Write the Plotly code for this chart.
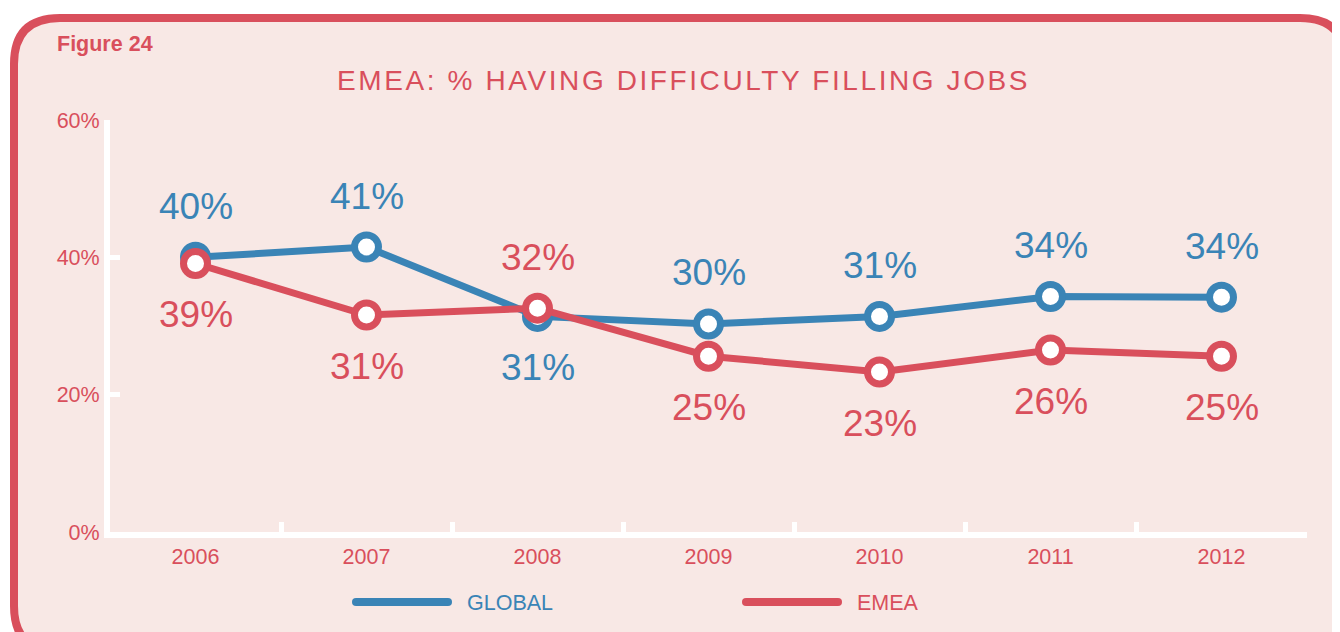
import plotly.graph_objects as go

years = ["2006", "2007", "2008", "2009", "2010", "2011", "2012"]
global_vals = [40.0, 41.5, 31.4, 30.3, 31.4, 34.3, 34.2]
emea_vals = [39.1, 31.6, 32.6, 25.6, 23.3, 26.5, 25.6]
global_labels = ["40%", "41%", "31%", "30%", "31%", "34%", "34%"]
emea_labels = ["39%", "31%", "32%", "25%", "23%", "26%", "25%"]
global_pos = ["above", "above", "below", "above", "above", "above", "above"]
emea_pos = ["below", "below", "above", "below", "below", "below", "below"]
y_ticks = [0, 20, 40, 60]
y_ticklabels = ["0%", "20%", "40%", "60%"]

BLUE = "#3A84B6"
RED = "#D94F5C"
BG = "#F8E8E5"
FONT = "Liberation Sans, Arial, Helvetica, sans-serif"

OFF = 8  # page body margin
W, H = 1340 - OFF, 632 - OFF
ML, MT = 110 - OFF, 120 - OFF
MR = W - (1307 - OFF)
MB = H - (532 - OFF)
PW, PH = W - ML - MR, H - MT - MB


def px(x):
    """reference screen pixel x -> paper coordinate"""
    return (x - OFF - ML) / PW


def py(y):
    """reference screen pixel y -> paper coordinate"""
    return (H - MB - (y - OFF)) / PH


fig = go.Figure()
for vals, name, color in [(global_vals, "GLOBAL", BLUE), (emea_vals, "EMEA", RED)]:
    fig.add_trace(go.Scatter(
        x=years, y=vals, name=name, mode="lines+markers",
        line=dict(color=color, width=7),
        marker=dict(size=24, color="white", line=dict(color=color, width=7)),
        showlegend=False, hoverinfo="skip",
    ))

annotations = []
for vals, labels, pos, color in [(global_vals, global_labels, global_pos, BLUE),
                                 (emea_vals, emea_labels, emea_pos, RED)]:
    for i, (v, lab, p) in enumerate(zip(vals, labels, pos)):
        annotations.append(dict(
            x=i, y=v, xref="x", yref="y", text=lab, showarrow=False,
            yshift=51 if p == "above" else -51,
            font=dict(family=FONT, size=37, color=color),
        ))

# Figure label and title
annotations.append(dict(x=px(55), y=py(44), xref="paper", yref="paper", text="<b>Figure 24</b>",
                        showarrow=False, xanchor="left", yanchor="middle",
                        font=dict(family=FONT, size=21.5, color=RED)))
annotations.append(dict(x=px(683), y=py(80), xref="paper", yref="paper",
                        text='<span style="letter-spacing:2.6px">EMEA: % HAVING DIFFICULTY FILLING JOBS</span>',
                        showarrow=False, xanchor="center", yanchor="middle",
                        font=dict(family=FONT, size=28, color=RED)))

# Custom legend (lines with rounded caps)
shapes = []
for x0, x1, tx, name, color in [(356, 448, 465, "GLOBAL", BLUE), (746, 838, 855, "EMEA", RED)]:
    shapes.append(dict(type="line", xref="paper", yref="paper", x0=px(x0), x1=px(x1),
                       y0=py(602), y1=py(602), line=dict(color=color, width=8)))
    for cx in (x0, x1):
        shapes.append(dict(type="circle", xref="paper", yref="paper",
                           x0=px(cx - 4), x1=px(cx + 4), y0=py(606), y1=py(598),
                           fillcolor=color, line=dict(width=0)))
    annotations.append(dict(x=px(tx), y=py(603), xref="paper", yref="paper", text=name,
                            showarrow=False, xanchor="left", yanchor="middle",
                            font=dict(family=FONT, size=21.5, color=color)))

# Rounded background panel
L, T, R, B, r = 14, 18, 1346, 652, 46
path = (f"M {px(L+r)},{py(T)} L {px(R-r)},{py(T)} Q {px(R)},{py(T)} {px(R)},{py(T+r)} "
        f"L {px(R)},{py(B-r)} Q {px(R)},{py(B)} {px(R-r)},{py(B)} "
        f"L {px(L+r)},{py(B)} Q {px(L)},{py(B)} {px(L)},{py(B-r)} "
        f"L {px(L)},{py(T+r)} Q {px(L)},{py(T)} {px(L+r)},{py(T)} Z")
shapes.insert(0, dict(type="path", xref="paper", yref="paper", path=path, layer="below",
                      fillcolor=BG, line=dict(color=RED, width=8)))

fig.update_layout(
    width=W, height=H,
    margin=dict(l=ML, r=MR, t=MT, b=MB),
    paper_bgcolor="white", plot_bgcolor="rgba(0,0,0,0)",
    annotations=annotations, shapes=shapes,
    xaxis=dict(type="category", range=[-0.5, 6.5], showgrid=False, zeroline=False,
               showline=True, linecolor="white", linewidth=6,
               ticks="inside", tickson="boundaries", ticklen=10, tickwidth=5, tickcolor="white",
               tickfont=dict(family=FONT, size=21.5, color=RED)),
    yaxis=dict(range=[0, 60], showgrid=False, zeroline=False,
               showline=True, linecolor="white", linewidth=6,
               tickvals=y_ticks, ticktext=y_ticklabels,
               ticks="inside", ticklen=10, tickwidth=5, tickcolor="white",
               tickfont=dict(family=FONT, size=21.5, color=RED)),
)

fig.write_html("out.html")
